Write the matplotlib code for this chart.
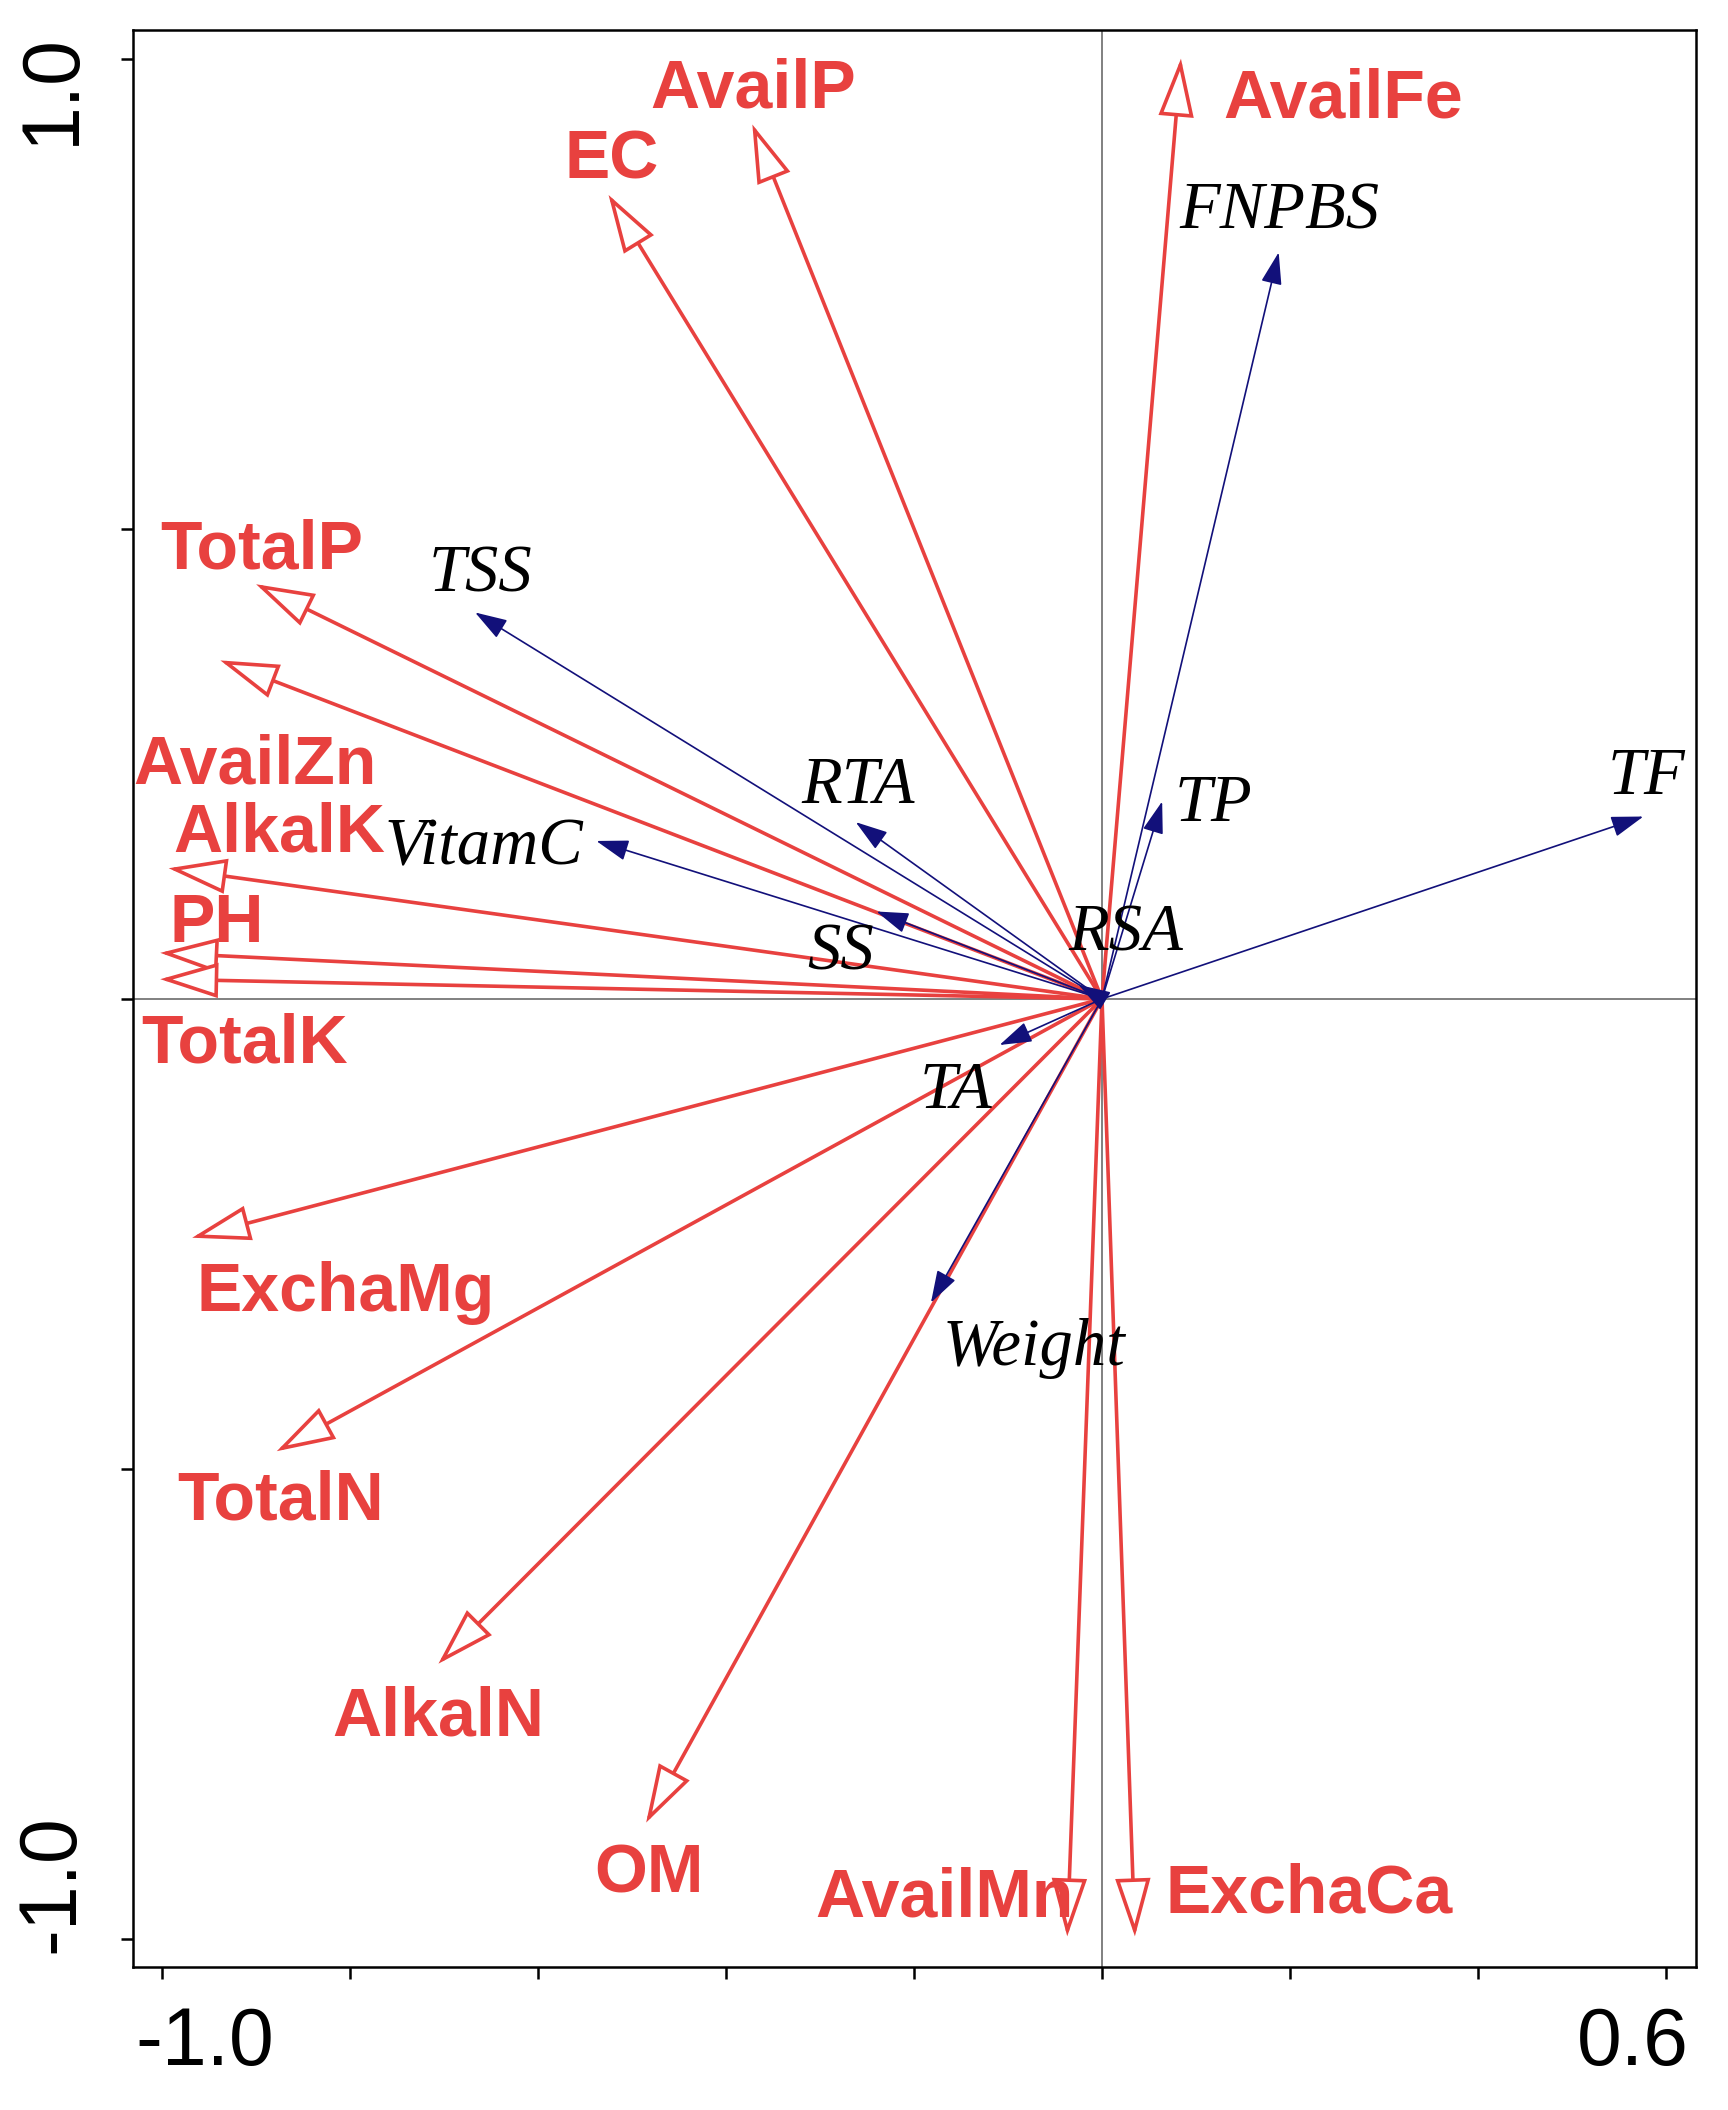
import matplotlib
matplotlib.use("Agg")
import matplotlib.pyplot as plt
from matplotlib.patches import FancyArrowPatch, ArrowStyle

# ---- data: environmental (soil) vectors, red ----
soil_names = ['AvailFe', 'AvailP', 'EC', 'TotalP', 'AvailZn', 'AlkalK', 'PH', 'TotalK',
              'ExchaMg', 'TotalN', 'AlkalN', 'OM', 'AvailMn', 'ExchaCa']
soil_x = [0.084, -0.372, -0.525, -0.900, -0.938, -0.993, -1.002, -1.002,
          -0.968, -0.878, -0.706, -0.485, -0.037, 0.035]
soil_y = [1.000, 0.930, 0.855, 0.441, 0.360, 0.139, 0.049, 0.021,
          -0.254, -0.481, -0.707, -0.876, -0.997, -0.997]

# ---- data: fruit-quality (response) vectors, navy ----
fruit_names = ['FNPBS', 'TF', 'TP', 'RSA', 'TSS', 'RTA', 'VitamC', 'SS', 'TA', 'Weight']
fruit_x = [0.188, 0.576, 0.064, -0.025, -0.667, -0.262, -0.538, -0.240, -0.109, -0.182]
fruit_y = [0.794, 0.194, 0.210, 0.015, 0.411, 0.188, 0.168, 0.093, -0.049, -0.323]

# ---- label placement (center x, baseline y) ----
soil_lab_x = [0.257, -0.371, -0.522, -0.894, -0.901, -0.875, -0.942, -0.912,
              -0.805, -0.874, -0.706, -0.482, -0.168, 0.220]
soil_lab_y = [0.937, 0.948, 0.873, 0.458, 0.229, 0.157, 0.061, -0.068,
              -0.332, -0.554, -0.783, -0.950, -0.976, -0.972]
fruit_lab_x = [0.189, 0.579, 0.119, 0.025, -0.661, -0.259, -0.658, -0.278, -0.155, -0.072]
fruit_lab_y = [0.819, 0.218, 0.189, 0.052, 0.433, 0.2085, 0.143, 0.031, -0.116, -0.389]

xticks = [-1.0, -0.8, -0.6, -0.4, -0.2, 0.0, 0.2, 0.4, 0.6]
yticks = [-1.0, -0.5, 0.0, 0.5, 1.0]

RED = '#E8413F'
NAVY = '#12107A'

fig = plt.figure(figsize=(17.28, 21.10), dpi=100)
ax = fig.add_axes([133 / 1728, 1 - 1967 / 2110, 1563 / 1728, 1937 / 2110])
ax.set_xlim(-1.031, 0.632)
ax.set_ylim(-1.0296, 1.0305)

ax.axvline(0, color='#808080', lw=1.4, zorder=1)
ax.axhline(0, color='#808080', lw=1.4, zorder=1)

red_style = ArrowStyle('-|>', head_length=36, head_width=11)
for x, y in zip(soil_x, soil_y):
    ax.add_patch(FancyArrowPatch((0, 0), (x, y), arrowstyle=red_style, mutation_scale=1,
                                 shrinkA=0, shrinkB=0, lw=2.6, edgecolor=RED,
                                 facecolor='white', zorder=2, joinstyle='miter'))

blue_style = ArrowStyle('-|>', head_length=20, head_width=6.5)
for x, y in zip(fruit_x, fruit_y):
    ax.add_patch(FancyArrowPatch((0, 0), (x, y), arrowstyle=blue_style, mutation_scale=1,
                                 shrinkA=0, shrinkB=0, lw=1.2, edgecolor=NAVY,
                                 facecolor=NAVY, zorder=3))

for name, lx, ly in zip(soil_names, soil_lab_x, soil_lab_y):
    ax.text(lx, ly, name, color=RED, fontsize=49, fontweight='bold',
            family='Liberation Sans', ha='center', va='baseline', zorder=4)

for name, lx, ly in zip(fruit_names, fruit_lab_x, fruit_lab_y):
    ax.text(lx, ly, name, color='black', fontsize=48, fontstyle='italic',
            family='Liberation Serif', ha='center', va='baseline', zorder=4)

# axes / ticks
for sp in ax.spines.values():
    sp.set_linewidth(1.8)
ax.set_xticks(xticks)
ax.set_yticks(yticks)
ax.tick_params(direction='out', length=8.5, width=1.8, labelbottom=False, labelleft=False)

xt = ax.get_xaxis_transform()
ax.text(-1.029, -0.0398, '-1.0', transform=xt, fontsize=58, family='Liberation Sans',
        ha='left', va='center', clip_on=False)
ax.text(0.624, -0.0398, '0.6', transform=xt, fontsize=58, family='Liberation Sans',
        ha='right', va='center', clip_on=False)
yt = ax.get_yaxis_transform()
ax.text(-0.0513, 1.027, '1.0', transform=yt, fontsize=58, family='Liberation Sans',
        rotation=90, ha='center', va='top', clip_on=False)
ax.text(-0.0513, -1.015, '-1.0', transform=yt, fontsize=58, family='Liberation Sans',
        rotation=90, ha='center', va='bottom', clip_on=False)

fig.savefig('out.png', dpi=100, facecolor='white')
